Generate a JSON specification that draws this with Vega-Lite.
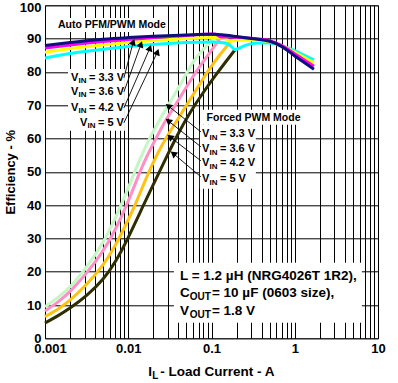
{
  "$schema": "https://vega.github.io/schema/vega-lite/v6.json",
  "width": 333,
  "height": 333,
  "autosize": {"type": "none"},
  "padding": {"left": 45, "top": 5.3, "right": 20, "bottom": 44.7},
  "background": "white",
  "config": {
    "view": {"stroke": "#666", "strokeWidth": 1},
    "axis": {
      "labelFont": "Liberation Sans", "labelFontWeight": "bold", "labelFontSize": 13, "labelColor": "#000",
      "titleFont": "Liberation Sans", "titleFontWeight": "bold", "titleFontSize": 13, "titleColor": "#000",
      "gridColor": "#000", "gridOpacity": 1, "gridWidth": 1,
      "ticks": false, "domain": false, "labelOverlap": false, "labelFlush": false
    },
    "text": {"font": "Liberation Sans", "fontWeight": "bold", "color": "#000"}
  },
  "datasets": {
    "forced": [
      {"s": "f33", "x": 0.001, "y": 9.5}, {"s": "f33", "x": 0.0015, "y": 12.6}, {"s": "f33", "x": 0.002, "y": 15.3},
      {"s": "f33", "x": 0.003, "y": 20.5}, {"s": "f33", "x": 0.005, "y": 28.5}, {"s": "f33", "x": 0.007, "y": 36.0},
      {"s": "f33", "x": 0.01, "y": 45.0}, {"s": "f33", "x": 0.0126, "y": 51.5}, {"s": "f33", "x": 0.0178, "y": 60.0},
      {"s": "f33", "x": 0.025, "y": 66.5}, {"s": "f33", "x": 0.03, "y": 70.0}, {"s": "f33", "x": 0.04, "y": 75.0},
      {"s": "f33", "x": 0.048, "y": 78.8}, {"s": "f33", "x": 0.058, "y": 82.4}, {"s": "f33", "x": 0.071, "y": 85.6},
      {"s": "f33", "x": 0.1, "y": 89.3}, {"s": "f33", "x": 0.12, "y": 90.9},

      {"s": "f36", "x": 0.001, "y": 8.2}, {"s": "f36", "x": 0.0015, "y": 11.2}, {"s": "f36", "x": 0.002, "y": 14.0},
      {"s": "f36", "x": 0.003, "y": 18.8}, {"s": "f36", "x": 0.005, "y": 26.0}, {"s": "f36", "x": 0.007, "y": 32.5},
      {"s": "f36", "x": 0.01, "y": 41.0}, {"s": "f36", "x": 0.0126, "y": 47.5}, {"s": "f36", "x": 0.0158, "y": 53.5},
      {"s": "f36", "x": 0.0215, "y": 60.0}, {"s": "f36", "x": 0.028, "y": 65.5}, {"s": "f36", "x": 0.038, "y": 70.5},
      {"s": "f36", "x": 0.05, "y": 75.5}, {"s": "f36", "x": 0.063, "y": 79.5}, {"s": "f36", "x": 0.079, "y": 83.0},
      {"s": "f36", "x": 0.1, "y": 86.5}, {"s": "f36", "x": 0.13, "y": 90.4},

      {"s": "f42", "x": 0.001, "y": 6.5}, {"s": "f42", "x": 0.0015, "y": 9.0}, {"s": "f42", "x": 0.002, "y": 11.4},
      {"s": "f42", "x": 0.003, "y": 15.5}, {"s": "f42", "x": 0.005, "y": 21.8}, {"s": "f42", "x": 0.0069, "y": 27.5},
      {"s": "f42", "x": 0.01, "y": 35.5}, {"s": "f42", "x": 0.0126, "y": 41.0}, {"s": "f42", "x": 0.0166, "y": 48.5},
      {"s": "f42", "x": 0.0224, "y": 55.5}, {"s": "f42", "x": 0.028, "y": 60.0}, {"s": "f42", "x": 0.04, "y": 66.0},
      {"s": "f42", "x": 0.05, "y": 70.0}, {"s": "f42", "x": 0.071, "y": 76.0}, {"s": "f42", "x": 0.089, "y": 80.0},
      {"s": "f42", "x": 0.12, "y": 84.5}, {"s": "f42", "x": 0.15, "y": 87.5}, {"s": "f42", "x": 0.17, "y": 89.1},

      {"s": "f50", "x": 0.001, "y": 4.6}, {"s": "f50", "x": 0.0014, "y": 6.6}, {"s": "f50", "x": 0.002, "y": 9.0},
      {"s": "f50", "x": 0.0032, "y": 12.8}, {"s": "f50", "x": 0.005, "y": 17.5}, {"s": "f50", "x": 0.0071, "y": 23.0},
      {"s": "f50", "x": 0.01, "y": 30.2}, {"s": "f50", "x": 0.0141, "y": 38.2}, {"s": "f50", "x": 0.02, "y": 46.2},
      {"s": "f50", "x": 0.0282, "y": 54.0}, {"s": "f50", "x": 0.0398, "y": 61.6}, {"s": "f50", "x": 0.0562, "y": 68.2},
      {"s": "f50", "x": 0.0794, "y": 73.8}, {"s": "f50", "x": 0.112, "y": 79.0}, {"s": "f50", "x": 0.151, "y": 83.3},
      {"s": "f50", "x": 0.19, "y": 86.5}
    ],
    "auto": [
      {"s": "a50", "x": 0.001, "y": 84.2}, {"s": "a50", "x": 0.002, "y": 85.5}, {"s": "a50", "x": 0.005, "y": 86.8},
      {"s": "a50", "x": 0.01, "y": 87.6}, {"s": "a50", "x": 0.02, "y": 88.2}, {"s": "a50", "x": 0.05, "y": 88.8},
      {"s": "a50", "x": 0.1, "y": 89.0}, {"s": "a50", "x": 0.15, "y": 88.6}, {"s": "a50", "x": 0.175, "y": 87.5},
      {"s": "a50", "x": 0.19, "y": 86.7}, {"s": "a50", "x": 0.25, "y": 87.9}, {"s": "a50", "x": 0.35, "y": 88.7},
      {"s": "a50", "x": 0.5, "y": 88.7}, {"s": "a50", "x": 0.7, "y": 87.8}, {"s": "a50", "x": 1.0, "y": 86.4},
      {"s": "a50", "x": 1.3, "y": 85.0}, {"s": "a50", "x": 1.7, "y": 83.6},

      {"s": "a42", "x": 0.001, "y": 85.9}, {"s": "a42", "x": 0.002, "y": 87.0}, {"s": "a42", "x": 0.005, "y": 88.1},
      {"s": "a42", "x": 0.01, "y": 88.8}, {"s": "a42", "x": 0.02, "y": 89.4}, {"s": "a42", "x": 0.05, "y": 90.0},
      {"s": "a42", "x": 0.1, "y": 90.3}, {"s": "a42", "x": 0.14, "y": 90.1}, {"s": "a42", "x": 0.17, "y": 89.2},
      {"s": "a42", "x": 0.2, "y": 89.6}, {"s": "a42", "x": 0.3, "y": 89.6}, {"s": "a42", "x": 0.5, "y": 89.1},
      {"s": "a42", "x": 0.7, "y": 87.9}, {"s": "a42", "x": 1.0, "y": 85.9}, {"s": "a42", "x": 1.3, "y": 84.3},
      {"s": "a42", "x": 1.7, "y": 82.7},

      {"s": "a36", "x": 0.001, "y": 87.2}, {"s": "a36", "x": 0.002, "y": 88.1}, {"s": "a36", "x": 0.005, "y": 89.1},
      {"s": "a36", "x": 0.01, "y": 89.7}, {"s": "a36", "x": 0.02, "y": 90.3}, {"s": "a36", "x": 0.05, "y": 90.9},
      {"s": "a36", "x": 0.08, "y": 91.3}, {"s": "a36", "x": 0.11, "y": 91.4}, {"s": "a36", "x": 0.13, "y": 90.5},
      {"s": "a36", "x": 0.2, "y": 90.4}, {"s": "a36", "x": 0.3, "y": 90.1}, {"s": "a36", "x": 0.5, "y": 89.4},
      {"s": "a36", "x": 0.7, "y": 87.9}, {"s": "a36", "x": 1.0, "y": 85.4}, {"s": "a36", "x": 1.3, "y": 83.6},
      {"s": "a36", "x": 1.7, "y": 81.7},

      {"s": "a33", "x": 0.001, "y": 87.9}, {"s": "a33", "x": 0.002, "y": 88.8}, {"s": "a33", "x": 0.005, "y": 89.8},
      {"s": "a33", "x": 0.01, "y": 90.3}, {"s": "a33", "x": 0.02, "y": 90.7}, {"s": "a33", "x": 0.05, "y": 91.1},
      {"s": "a33", "x": 0.1, "y": 91.3}, {"s": "a33", "x": 0.15, "y": 91.0}, {"s": "a33", "x": 0.2, "y": 90.6},
      {"s": "a33", "x": 0.3, "y": 90.0}, {"s": "a33", "x": 0.5, "y": 89.2}, {"s": "a33", "x": 0.7, "y": 87.6},
      {"s": "a33", "x": 1.0, "y": 84.8}, {"s": "a33", "x": 1.3, "y": 82.8}, {"s": "a33", "x": 1.7, "y": 80.8}
    ],
    "boxes": [
      {"x": 0.001355, "x2": 0.0292, "y": 96.2, "y2": 92.0},
      {"x": 0.00189, "x2": 0.00912, "y": 80.9, "y2": 62.3},
      {"x": 0.0789, "x2": 1.15, "y": 68.6, "y2": 64.1},
      {"x": 0.0725, "x2": 0.341, "y": 64.1, "y2": 44.9},
      {"x": 0.0354, "x2": 6.4, "y": 22.7, "y2": 4.7}
    ],
    "arrows": [
      {"g": "auto", "x": 0.01148, "y": 89.0, "x2": 0.00887, "y2": 78.2},
      {"g": "auto", "x": 0.0142, "y": 88.3, "x2": 0.00887, "y2": 74.0},
      {"g": "auto", "x": 0.01822, "y": 87.2, "x2": 0.00887, "y2": 69.2},
      {"g": "auto", "x": 0.0224, "y": 86.0, "x2": 0.00887, "y2": 64.7},
      {"g": "forced", "x": 0.0302, "y": 69.8, "x2": 0.0746, "y2": 62.0},
      {"g": "forced", "x": 0.0302, "y": 65.3, "x2": 0.0746, "y2": 57.5},
      {"g": "forced", "x": 0.03167, "y": 60.5, "x2": 0.0746, "y2": 53.3},
      {"g": "forced", "x": 0.0347, "y": 55.5, "x2": 0.0746, "y2": 48.5}
    ],
    "texts": [
      {"r": "mode", "x": 0.00143, "y": 94.0, "t": "Auto PFM/PWM Mode"},
      {"r": "mode", "x": 0.0873, "y": 66.3, "t": "Forced PWM Mode"},
      {"r": "vv", "x": 0.00205, "y": 78.3, "t": "V"}, {"r": "vs", "x": 0.00205, "y": 78.3, "t": "IN"}, {"r": "vr", "x": 0.00205, "y": 78.3, "t": " = 3.3 V"},
      {"r": "vv", "x": 0.00205, "y": 74.1, "t": "V"}, {"r": "vs", "x": 0.00205, "y": 74.1, "t": "IN"}, {"r": "vr", "x": 0.00205, "y": 74.1, "t": " = 3.6 V"},
      {"r": "vv", "x": 0.00205, "y": 69.3, "t": "V"}, {"r": "vs", "x": 0.00205, "y": 69.3, "t": "IN"}, {"r": "vr", "x": 0.00205, "y": 69.3, "t": " = 4.2 V"},
      {"r": "vv", "x": 0.00263, "y": 64.8, "t": "V"}, {"r": "vs", "x": 0.00263, "y": 64.8, "t": "IN"}, {"r": "vr", "x": 0.00263, "y": 64.8, "t": " = 5 V"},
      {"r": "vv", "x": 0.0767, "y": 61.3, "t": "V"}, {"r": "vs", "x": 0.0767, "y": 61.3, "t": "IN"}, {"r": "vr", "x": 0.0767, "y": 61.3, "t": " = 3.3 V"},
      {"r": "vv", "x": 0.0767, "y": 56.8, "t": "V"}, {"r": "vs", "x": 0.0767, "y": 56.8, "t": "IN"}, {"r": "vr", "x": 0.0767, "y": 56.8, "t": " = 3.6 V"},
      {"r": "vv", "x": 0.0767, "y": 52.5, "t": "V"}, {"r": "vs", "x": 0.0767, "y": 52.5, "t": "IN"}, {"r": "vr", "x": 0.0767, "y": 52.5, "t": " = 4.2 V"},
      {"r": "vv", "x": 0.0767, "y": 47.8, "t": "V"}, {"r": "vs", "x": 0.0767, "y": 47.8, "t": "IN"}, {"r": "vr", "x": 0.0767, "y": 47.8, "t": " = 5 V"},
      {"r": "sm", "x": 0.0418, "y": 18.8, "t": "L = 1.2 µH (NRG4026T 1R2),"},
      {"r": "sm", "x": 0.0418, "y": 13.6, "t": "C"}, {"r": "ss", "x": 0.0418, "y": 13.6, "t": "OUT"}, {"r": "sr", "x": 0.0418, "y": 13.6, "t": " = 10 µF (0603 size),"},
      {"r": "sm", "x": 0.0418, "y": 8.1, "t": "V"}, {"r": "ss", "x": 0.0418, "y": 8.1, "t": "OUT"}, {"r": "sr", "x": 0.0418, "y": 8.1, "t": " = 1.8 V"},
      {"r": "xm", "x": 0.01738, "y": -10.2, "t": "I"}, {"r": "xs", "x": 0.01738, "y": -10.2, "t": "L"}, {"r": "xr", "x": 0.01738, "y": -10.2, "t": " - Load Current - A"}
    ]
  },
  "encoding": {
    "x": {
      "field": "x", "type": "quantitative",
      "scale": {"type": "log", "domain": [0.001, 10]},
      "axis": {
        "title": null, "grid": true, "labelPadding": 4,
        "labelOffset": {"condition": {"test": "datum.value === 0.001", "value": 5}, "value": 0},
        "values": [0.001, 0.002, 0.003, 0.004, 0.005, 0.006, 0.007, 0.008, 0.009,
                   0.01, 0.02, 0.03, 0.04, 0.05, 0.06, 0.07, 0.08, 0.09,
                   0.1, 0.2, 0.3, 0.4, 0.5, 0.6, 0.7, 0.8, 0.9,
                   1, 2, 3, 4, 5, 6, 7, 8, 9, 10],
        "labelExpr": "indexof([0.001, 0.01, 0.1, 1, 10], datum.value) >= 0 ? format(datum.value, '~g') : ''"
      }
    },
    "y": {
      "field": "y", "type": "quantitative",
      "scale": {"domain": [0, 100]},
      "axis": {
        "title": "Efficiency - %", "grid": true, "labelPadding": 4, "titlePadding": 2,
        "labelOffset": {"condition": {"test": "datum.value === 100", "value": 2.5}, "value": 0},
        "values": [0, 10, 20, 30, 40, 50, 60, 70, 80, 90, 100]
      }
    },
    "color": {
      "field": "s", "type": "nominal", "legend": null,
      "scale": {
        "domain": ["f33", "f36", "f42", "f50", "a50", "a42", "a36", "a33"],
        "range": ["#c4f7c4", "#ff8fc6", "#ffc20e", "#2e2e00", "#00ffff", "#ffff00", "#ff00ff", "#10107a"]
      }
    }
  },
  "layer": [
    {
      "data": {"name": "boxes"},
      "mark": {"type": "rect", "fill": "white", "strokeWidth": 0},
      "encoding": {"x2": {"field": "x2"}, "y2": {"field": "y2"}, "color": {"value": "white"}}
    },
    {
      "data": {"name": "forced"},
      "mark": {"type": "line", "strokeWidth": 3, "interpolate": "basis"}
    },
    {
      "data": {"name": "auto"},
      "mark": {"type": "line", "strokeWidth": 3, "interpolate": "monotone"}
    },
    {
      "data": {"name": "arrows"},
      "mark": {"type": "rule", "strokeWidth": 0.9},
      "encoding": {"x2": {"field": "x2"}, "y2": {"field": "y2"}, "color": {"value": "#000"}}
    },
    {
      "data": {"name": "arrows"},
      "transform": [{"filter": "datum.g == 'auto'"}],
      "mark": {"type": "point", "shape": "triangle-up", "filled": true, "opacity": 1, "size": 55, "angle": 20},
      "encoding": {"color": {"value": "#000"}}
    },
    {
      "data": {"name": "arrows"},
      "transform": [{"filter": "datum.g == 'forced'"}],
      "mark": {"type": "point", "shape": "triangle-up", "filled": true, "opacity": 1, "size": 55, "angle": -52},
      "encoding": {"color": {"value": "#000"}}
    },
    {
      "data": {"name": "texts"},
      "transform": [{"filter": "datum.r == 'mode'"}],
      "mark": {"type": "text", "align": "left", "baseline": "middle", "fontSize": 10.5},
      "encoding": {"text": {"field": "t"}, "color": {"value": "#000"}}
    },
    {
      "data": {"name": "texts"},
      "transform": [{"filter": "datum.r == 'vv'"}],
      "mark": {"type": "text", "align": "left", "baseline": "middle", "fontSize": 11},
      "encoding": {"text": {"field": "t"}, "color": {"value": "#000"}}
    },
    {
      "data": {"name": "texts"},
      "transform": [{"filter": "datum.r == 'vs'"}],
      "mark": {"type": "text", "align": "left", "baseline": "middle", "fontSize": 8, "dx": 7.6, "dy": 3.5},
      "encoding": {"text": {"field": "t"}, "color": {"value": "#000"}}
    },
    {
      "data": {"name": "texts"},
      "transform": [{"filter": "datum.r == 'vr'"}],
      "mark": {"type": "text", "align": "left", "baseline": "middle", "fontSize": 11, "dx": 18},
      "encoding": {"text": {"field": "t"}, "color": {"value": "#000"}}
    },
    {
      "data": {"name": "texts"},
      "transform": [{"filter": "datum.r == 'sm'"}],
      "mark": {"type": "text", "align": "left", "baseline": "middle", "fontSize": 13.5},
      "encoding": {"text": {"field": "t"}, "color": {"value": "#000"}}
    },
    {
      "data": {"name": "texts"},
      "transform": [{"filter": "datum.r == 'ss'"}],
      "mark": {"type": "text", "align": "left", "baseline": "middle", "fontSize": 10, "dx": 9.8, "dy": 4},
      "encoding": {"text": {"field": "t"}, "color": {"value": "#000"}}
    },
    {
      "data": {"name": "texts"},
      "transform": [{"filter": "datum.r == 'sr'"}],
      "mark": {"type": "text", "align": "left", "baseline": "middle", "fontSize": 13.5, "dx": 32},
      "encoding": {"text": {"field": "t"}, "color": {"value": "#000"}}
    },
    {
      "data": {"name": "texts"},
      "transform": [{"filter": "datum.r == 'xm'"}],
      "mark": {"type": "text", "align": "left", "baseline": "middle", "fontSize": 13.5},
      "encoding": {"text": {"field": "t"}, "color": {"value": "#000"}}
    },
    {
      "data": {"name": "texts"},
      "transform": [{"filter": "datum.r == 'xs'"}],
      "mark": {"type": "text", "align": "left", "baseline": "middle", "fontSize": 10, "dx": 3.9, "dy": 3.5},
      "encoding": {"text": {"field": "t"}, "color": {"value": "#000"}}
    },
    {
      "data": {"name": "texts"},
      "transform": [{"filter": "datum.r == 'xr'"}],
      "mark": {"type": "text", "align": "left", "baseline": "middle", "fontSize": 13.5, "dx": 12},
      "encoding": {"text": {"field": "t"}, "color": {"value": "#000"}}
    }
  ]
}
